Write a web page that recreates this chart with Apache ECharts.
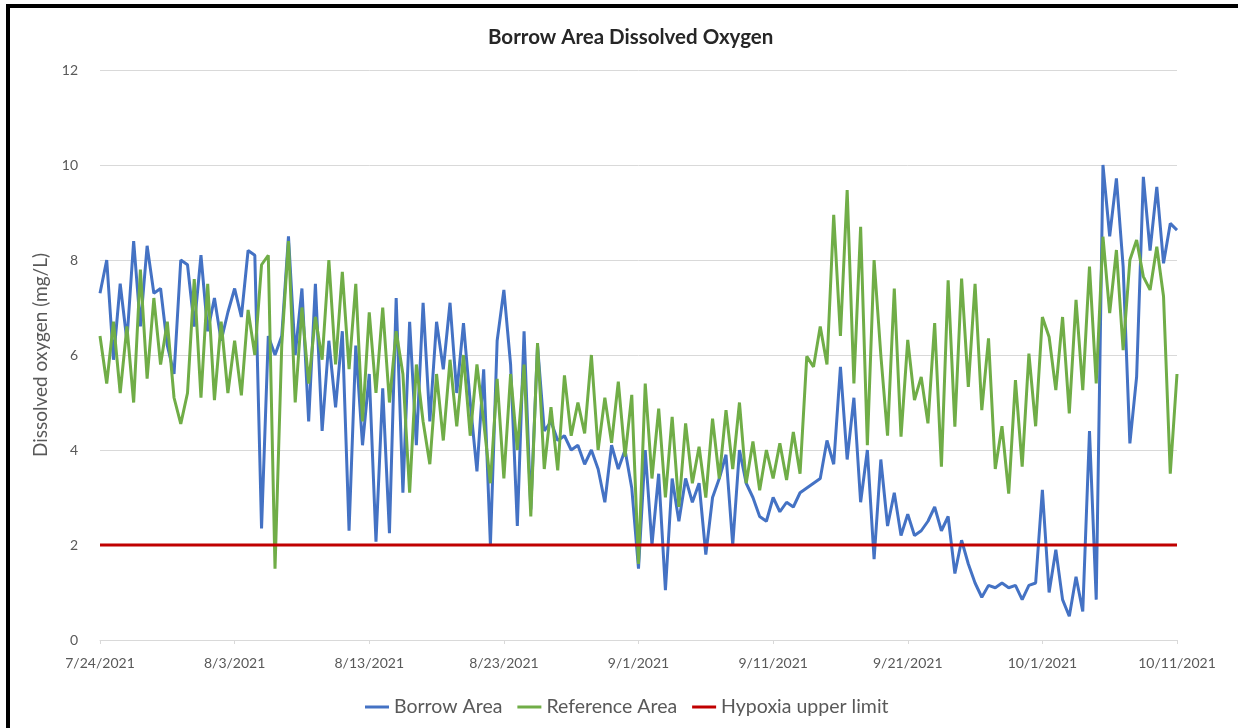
<!DOCTYPE html>
<html>
<head>
<meta charset="utf-8">
<script src="https://cdn.jsdelivr.net/npm/echarts@6/dist/echarts.min.js"></script>
<style>
html,body{margin:0;padding:0;background:#fff;}
#chart{position:absolute;left:0;top:0;width:1238px;height:728px;}
.bt{position:absolute;left:6px;top:4px;width:1232px;height:4px;background:#000;}
.bl{position:absolute;left:6px;top:4px;width:4px;height:724px;background:#000;}
</style>
</head>
<body>
<div id="chart"></div>
<div class="bt"></div>
<div class="bl"></div>
<script>
const tickLabels = ['7/24/2021','8/3/2021','8/13/2021','8/23/2021','9/1/2021','9/11/2021','9/21/2021','10/1/2021','10/11/2021'];
const pointsPerTick = 20;

const borrowArea = [
  7.3, 8.0, 5.9, 7.5, 6.3, 8.4, 6.6, 8.3, 7.3, 7.4,
  6.2, 5.6, 8.0, 7.9, 6.6, 8.1, 6.5, 7.2, 6.3, 6.9,
  7.4, 6.8, 8.2, 8.1, 2.35, 6.4, 6.0, 6.4, 8.5, 6.0,
  7.4, 4.6, 7.5, 4.4, 6.3, 4.9, 6.5, 2.3, 6.2, 4.1,
  5.6, 2.07, 5.3, 2.25, 7.2, 3.1, 6.7, 4.1, 7.1, 4.6,
  6.7, 5.7, 7.1, 5.2, 6.67, 5.0, 3.55, 5.7, 2.0, 6.3,
  7.37, 5.8, 2.4, 6.5, 2.75, 6.2, 4.4, 4.6, 4.2, 4.3,
  4.0, 4.1, 3.7, 4.0, 3.6, 2.9, 4.1, 3.6, 4.0, 3.2,
  1.5, 4.0, 2.0, 3.5, 1.05, 3.4, 2.5, 3.4, 2.9, 3.3,
  1.8, 3.0, 3.4, 3.9, 2.0, 4.0, 3.3, 3.0, 2.6, 2.5,
  3.0, 2.7, 2.9, 2.8, 3.1, 3.2, 3.3, 3.4, 4.2, 3.7,
  5.75, 3.8, 5.1, 2.9, 4.0, 1.7, 3.8, 2.4, 3.1, 2.2,
  2.65, 2.2, 2.3, 2.5, 2.8, 2.3, 2.6, 1.4, 2.1, 1.6,
  1.2, 0.9, 1.15, 1.1, 1.2, 1.1, 1.15, 0.85, 1.15, 1.2,
  3.16, 1.0, 1.9, 0.85, 0.5, 1.33, 0.6, 4.4, 0.85, 10.0,
  8.5, 9.72, 7.86, 4.14, 5.54, 9.75, 8.2, 9.54, 7.93, 8.77, 8.63
];

const referenceArea = [
  6.4, 5.4, 6.7, 5.2, 6.6, 5.0, 7.8, 5.5, 7.2, 5.8,
  6.7, 5.1, 4.55, 5.2, 7.6, 5.1, 7.5, 5.05, 6.7, 5.2,
  6.3, 5.15, 6.95, 6.0, 7.9, 8.1, 1.5, 6.2, 8.4, 5.0,
  7.0, 5.4, 6.8, 5.9, 8.0, 5.8, 7.75, 5.7, 7.5, 4.6,
  6.9, 5.2, 7.0, 5.0, 6.5, 5.6, 3.1, 5.8, 4.6, 3.7,
  5.6, 4.2, 5.9, 4.5, 6.0, 4.3, 5.8, 4.6, 3.3, 5.5,
  3.4, 5.6, 4.0, 5.8, 2.6, 6.25, 3.6, 4.9, 3.57, 5.57,
  4.3, 5.0, 4.35, 6.0, 4.0, 5.1, 4.15, 5.44, 3.86, 5.16,
  1.6, 5.4, 3.4, 4.87, 3.0, 4.7, 2.8, 4.56, 3.3, 4.07,
  3.0, 4.66, 3.4, 4.84, 3.6, 5.0, 3.3, 4.18, 3.15, 4.0,
  3.4, 4.14, 3.37, 4.38, 3.5, 5.97, 5.75, 6.6, 5.8, 8.95,
  6.4, 9.47, 5.4, 8.7, 4.1, 8.0, 6.0, 4.3, 7.4, 4.28,
  6.32, 5.05, 5.54, 4.56, 6.67, 3.65, 7.57, 4.49, 7.61, 5.33,
  7.5, 4.84, 6.35, 3.6, 4.5, 3.08, 5.47, 3.65, 6.03, 4.5,
  6.8, 6.38, 5.26, 6.8, 4.77, 7.16, 5.26, 7.86, 5.4, 8.49,
  6.88, 8.21, 6.1, 8.0, 8.42, 7.65, 7.37, 8.28, 7.23, 3.5, 5.6
];

const hypoxiaLimitValue = 2;

const categories = borrowArea.map((_, i) => String(i));
const hypoxiaLimit = borrowArea.map(() => hypoxiaLimitValue);

const chart = echarts.init(document.getElementById('chart'), null, {renderer: 'canvas'});
const font = 'Lato, "Open Sans", sans-serif';
const textColor = '#595959';

chart.setOption({
  animation: false,
  backgroundColor: '#fff',
  title: {
    text: 'Borrow Area Dissolved Oxygen',
    left: 483,
    top: 22,
    textStyle: {fontFamily: font, fontSize: 20.5, fontWeight: 'bold', color: '#262626'}
  },
  legend: {
    data: ['Borrow Area', 'Reference Area', 'Hypoxia upper limit'],
    left: 360,
    top: 692,
    icon: 'rect',
    itemWidth: 24,
    itemHeight: 3,
    itemGap: 15,
    textStyle: {fontFamily: font, fontSize: 19.5, color: textColor}
  },
  grid: {left: 100, right: 61, top: 70, bottom: 88, containLabel: false},
  xAxis: {
    type: 'category',
    data: categories,
    boundaryGap: false,
    axisLine: {lineStyle: {color: '#D9D9D9', width: 1}},
    axisTick: {show: true, length: 4, lineStyle: {color: '#D9D9D9'}, interval: (i) => i % pointsPerTick === 0},
    axisLabel: {
      interval: (i) => i % pointsPerTick === 0,
      formatter: (v, i) => (i % pointsPerTick === 0 ? tickLabels[i / pointsPerTick] : ''),
      margin: 16,
      fontFamily: font, fontSize: 14, color: textColor
    },
    splitLine: {show: false}
  },
  yAxis: {
    type: 'value',
    min: 0, max: 12, interval: 2,
    name: 'Dissolved oxygen (mg/L)',
    nameLocation: 'middle',
    nameGap: 44,
    nameTextStyle: {fontFamily: font, fontSize: 19, color: textColor},
    axisLine: {show: false},
    axisTick: {show: false},
    axisLabel: {margin: 22, fontFamily: font, fontSize: 14, color: textColor},
    splitLine: {lineStyle: {color: '#D9D9D9', width: 1}}
  },
  series: [
    {name: 'Borrow Area', type: 'line', data: borrowArea, symbol: 'none', lineStyle: {color: '#4472C4', width: 3}, itemStyle: {color: '#4472C4'}},
    {name: 'Reference Area', type: 'line', data: referenceArea, symbol: 'none', lineStyle: {color: '#70AD47', width: 3}, itemStyle: {color: '#70AD47'}},
    {name: 'Hypoxia upper limit', type: 'line', data: hypoxiaLimit, symbol: 'none', lineStyle: {color: '#C00000', width: 3}, itemStyle: {color: '#C00000'}}
  ]
});
</script>
</body>
</html>
